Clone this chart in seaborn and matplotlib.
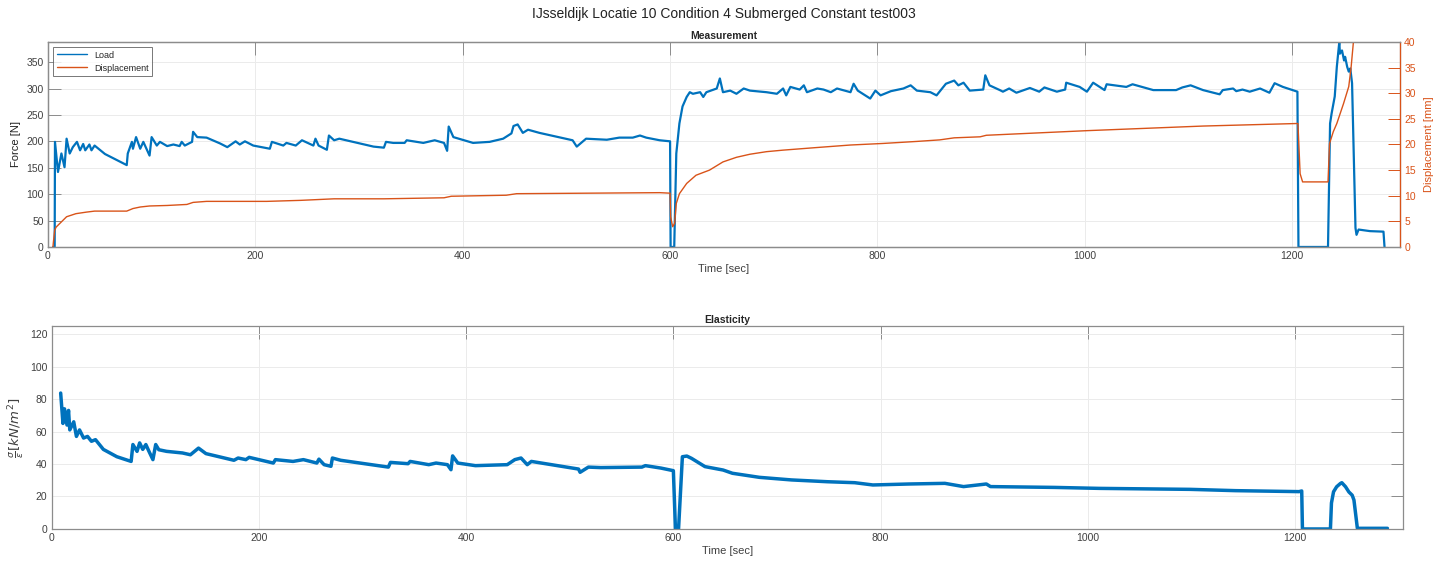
"""IJsseldijk Locatie 10, condition 4, submerged constant test003:
load / displacement on top (twin y axes) and elasticity underneath.

Save: out.png
"""
import pandas as pd

import matplotlib
matplotlib.use('Agg')
import matplotlib.pyplot as plt
import seaborn as sns

BLUE = '#0072BD'
ORANGE = '#D95319'
TXT = '#404040'
BOX = '#8c8c8c'

# Load [N] vs time [s]
load_t = [5, 6.5, 6.8, 9.7, 13, 16, 18, 21, 24, 28,
          31, 34, 36, 40, 42, 45, 55, 65, 76, 77,
          81, 82, 85, 89, 92, 98, 100, 105, 108, 115,
          121, 127, 129, 132, 139, 140, 144, 153, 166, 173,
          181, 185, 190, 198, 214, 216, 227, 230, 239, 245,
          256, 258, 261, 269, 271, 276, 281, 314, 324, 326,
          333, 344, 346, 362, 373, 382, 385, 386.5, 391, 410,
          426, 439, 447, 449, 453, 458, 463, 474, 506, 510,
          519, 539, 551, 564, 571, 577, 590, 600, 600.5, 604,
          606, 609, 612, 616, 619, 622, 629, 632, 635, 645,
          648, 651, 658, 664, 671, 677, 693, 703, 709, 712,
          716, 725, 729, 732, 742, 748, 755, 761, 774, 777,
          781, 793, 798, 803, 813, 825, 832, 838, 851, 857,
          866, 874, 878, 883, 889, 902, 904, 908, 918, 921,
          927, 934, 947, 956, 961, 973, 981, 982, 995, 1002,
          1008, 1019, 1021, 1040, 1046, 1066, 1088, 1094, 1102, 1114,
          1130, 1133, 1143, 1146, 1152, 1159, 1169, 1178, 1183, 1191,
          1205, 1206, 1234.5, 1236.5, 1238, 1241, 1243, 1245.4, 1246, 1248,
          1250, 1251, 1253, 1254.5, 1256, 1257.7, 1261, 1262, 1264, 1275,
          1288, 1289]
load_f = [0, 0, 199, 142, 177, 151, 205, 177, 189, 199,
          183, 195, 183, 194, 183, 192, 176, 166, 155, 177,
          199, 186, 208, 186, 199, 173, 208, 192, 199, 191,
          194, 191, 199, 192, 199, 218, 208, 207, 196, 189,
          200, 194, 200, 192, 186, 199, 192, 197, 192, 202,
          192, 205, 192, 184, 211, 202, 205, 190, 188, 199,
          197, 197, 202, 197, 202, 197, 182, 228, 208, 197,
          199, 205, 215, 229, 232, 216, 222, 216, 202, 190,
          205, 203, 207, 207, 211, 207, 202, 200, 0, 0,
          177, 234, 266, 284, 293, 290, 293, 284, 293, 300,
          319, 293, 296, 290, 300, 296, 293, 290, 300, 287,
          303, 298, 306, 293, 300, 298, 293, 300, 293, 309,
          296, 281, 296, 287, 295, 300, 306, 296, 293, 287,
          309, 315, 306, 311, 296, 298, 325, 306, 297, 294,
          300, 292, 301, 294, 302, 294, 298, 311, 303, 294,
          311, 297, 308, 303, 308, 297, 297, 302, 306, 297,
          289, 297, 300, 295, 298, 294, 300, 292, 310, 303,
          294, 0, 0, 234, 253, 285, 341, 388, 366, 372,
          353, 360, 341, 332, 338, 310, 36, 23, 33, 30,
          29, 0]

# Displacement [mm] vs time [s]
disp_t = [4.8, 6.5, 8, 13, 16, 18, 27, 37, 45, 76,
          82, 89, 98, 115, 134, 140, 153, 211, 244, 276,
          324, 382, 389, 442, 452, 590, 600, 600.5, 602.5, 604.4,
          606, 609, 616, 625, 638, 651, 664, 677, 693, 709,
          741, 774, 805, 838, 860, 874, 899, 905, 1002, 1114,
          1205.5, 1207.6, 1210, 1234.5, 1236, 1239.6, 1243, 1249.5, 1254.5, 1256.7,
          1259, 1262]
disp_d = [0, 3.3, 3.9, 4.9, 5.5, 5.9, 6.5, 6.8, 7.0, 7.0,
          7.5, 7.8, 8.0, 8.1, 8.3, 8.7, 8.9, 8.9, 9.1, 9.4,
          9.4, 9.6, 9.9, 10.1, 10.4, 10.6, 10.5, 5.9, 3.95, 4.6,
          8.5, 10.4, 12.4, 14.0, 15.0, 16.6, 17.5, 18.1, 18.6, 18.9,
          19.4, 19.9, 20.2, 20.6, 20.9, 21.3, 21.5, 21.8, 22.7, 23.6,
          24.1, 14.3, 12.7, 12.7, 20.2, 22.5, 24.1, 28, 31.3, 34.9,
          40, 44]

# Elasticity sigma/eps [kN/m2] vs time [s]
elas_t = [8.8, 11, 12.5, 14.9, 16.4, 17.6, 21.4, 24, 27, 30.9,
          34.7, 38.5, 42.4, 46.2, 50, 63, 76.8, 78.5, 82.5, 85,
          88, 91, 94, 97.8, 100.5, 103.5, 111, 126.4, 134, 141.8,
          149, 176, 180, 187.5, 190.7, 214, 216, 233, 243, 256,
          258, 263, 269.6, 271, 279, 325, 327, 344, 346, 364,
          371, 382, 385.4, 387, 392, 409, 439.7, 447, 453, 459,
          463, 508.5, 510, 518, 530, 569.6, 573, 588, 600, 602,
          605, 608.7, 613, 617.5, 630.5, 648, 657, 683, 714, 748.6,
          775, 792.5, 827.5, 862, 880, 902, 906, 967.5, 1011, 1098.7,
          1142.5, 1203.7, 1206.3, 1207, 1234, 1235, 1237, 1240, 1243.6, 1245,
          1248.6, 1251.8, 1255, 1256.7, 1260, 1289]
elas_e = [83.7, 65, 74, 64, 73, 61, 66, 57, 61, 56,
          57, 54, 55, 52, 49, 44.5, 41.6, 52, 47.8, 53,
          49, 52, 47.8, 42.7, 52, 48.8, 47.8, 46.8, 45.7, 49.8,
          46.4, 42.3, 43.7, 42.7, 44.1, 40.6, 42.7, 41.6, 42.7, 40.6,
          43, 39.6, 38.6, 43.7, 42.3, 38.1, 41, 40.2, 41.6, 39.6,
          40.6, 39.6, 36.5, 45, 40.6, 39, 39.6, 42.7, 43.7, 39.6,
          41.6, 36.9, 34.9, 38.1, 37.8, 38.1, 39, 37.5, 35.9, 0,
          0, 44.5, 44.9, 43.5, 38.4, 36.3, 34.3, 31.8, 30.2, 29.1,
          28.5, 27.1, 27.7, 28.1, 26.1, 27.7, 26.1, 25.6, 25, 24.4,
          23.6, 23.0, 23.4, 0, 0, 16, 22.9, 26, 28, 28.5,
          26, 22.8, 20.8, 17.8, 0.4, 0.4]

load = pd.DataFrame({'t': load_t, 'v': load_f})
disp = pd.DataFrame({'t': disp_t, 'v': disp_d})
elas = pd.DataFrame({'t': elas_t, 'v': elas_e})

sns.set_theme(style='white')
plt.rcParams['font.family'] = ['Liberation Sans', 'DejaVu Sans']
plt.rcParams['axes.edgecolor'] = BOX
plt.rcParams['axes.linewidth'] = 0.9

fig = plt.figure(figsize=(14.48, 5.64), dpi=100)
ax1 = fig.add_axes([0.0331, 0.5621, 0.9338, 0.3634])
ax2 = ax1.twinx()
ax3 = fig.add_axes([0.0356, 0.0621, 0.9333, 0.3599])

sns.lineplot(data=load, x='t', y='v', sort=False, estimator=None, ax=ax1,
             color=BLUE, linewidth=1.6, legend=False)
sns.lineplot(data=disp, x='t', y='v', sort=False, estimator=None, ax=ax2,
             color=ORANGE, linewidth=1.0, legend=False)
sns.lineplot(data=elas, x='t', y='v', sort=False, estimator=None, ax=ax3,
             color=BLUE, linewidth=2.5, legend=False)

for ax in (ax1, ax3):
    ax.set_xlim(0, 1304)
    ax.set_xticks([0, 200, 400, 600, 800, 1000, 1200])
    ax.grid(True, color='#ebebeb', linewidth=0.7)
    ax.set_axisbelow(True)
    ax.tick_params(axis='both', direction='in', length=9, width=0.7,
                   color=BOX, labelsize=7.5, labelcolor=TXT, pad=3)
    ax.set_xlabel('Time [sec]', fontsize=8, color=TXT, labelpad=2)

ax1.set_ylim(0, 388)
ax1.set_yticks(range(0, 351, 50))
ax1.tick_params(top=True)
ax1.set_ylabel('Force [N]', fontsize=8, color='#222222', labelpad=4)
ax1.set_title('Measurement', fontsize=7.5, fontweight='bold', pad=2)

ax2.set_ylim(0, 40)
ax2.set_yticks(range(0, 41, 5))
ax2.grid(False)
ax2.spines['right'].set_color(ORANGE)
ax2.tick_params(axis='y', direction='in', length=9, width=0.7, color=ORANGE,
                labelsize=7.5, labelcolor=ORANGE, pad=3)
ax2.set_ylabel('Displacement [mm]', fontsize=8, color=ORANGE, labelpad=6)

h = [ax1.lines[0], ax2.lines[0]]
leg = ax2.legend(h, ['Load', 'Displacement'], loc='upper left', fontsize=6.5,
                 frameon=True, fancybox=False, edgecolor='#555555',
                 handlelength=3.4, borderaxespad=0.6, borderpad=0.35,
                 labelspacing=0.45)
leg.get_frame().set_linewidth(0.7)
for ln in leg.get_lines():
    ln.set_linewidth(1.0)

ax3.set_ylim(0, 125)
ax3.set_yticks(range(0, 121, 20))
ax3.tick_params(top=True, right=True)
ax3.set_ylabel(r'$\frac{\sigma}{\varepsilon}[kN/m^2]$', fontsize=9.5,
               color=TXT, labelpad=3)
ax3.set_title('Elasticity', fontsize=7.5, fontweight='bold', pad=2)

fig.text(0.5, 0.975, 'IJsseldijk Locatie 10 Condition 4 Submerged Constant test003',
         ha='center', va='center', fontsize=10, color='#222222')

fig.savefig('out.png', dpi=100)
plt.close(fig)
